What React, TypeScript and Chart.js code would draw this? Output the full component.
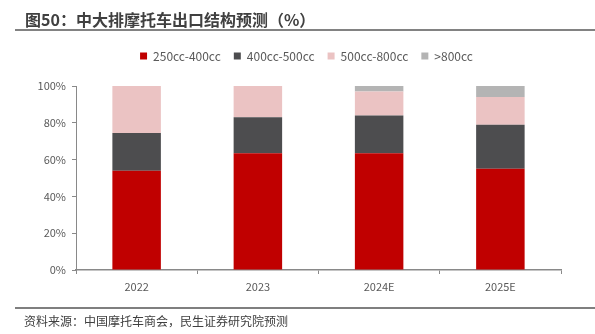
import React, { useEffect, useRef } from "react";
import { Chart, registerables } from "chart.js";

Chart.register(...registerables);

const categories = ["2022", "2023", "2024E", "2025E"];
const seriesNames = ["250cc-400cc", "400cc-500cc", "500cc-800cc", ">800cc"];
const s250_400 = [54, 63.5, 63.5, 55];
const s400_500 = [20.5, 19.5, 20.5, 24];
const s500_800 = [25.5, 17, 13, 15];
const s800 = [0, 0, 3, 6];
const yTicks = [0, 20, 40, 60, 80, 100];
const titleText = "图50：中大排摩托车出口结构预测（%）";
const sourceText = "资料来源：中国摩托车商会，民生证券研究院预测";

const colors = ["#C00000", "#4D4D4F", "#EBC3C3", "#B4B4B4"];
const FONT = "'Noto Sans CJK SC', 'Noto Sans', sans-serif";

export default function App() {
  const ref = useRef<HTMLCanvasElement | null>(null);
  useEffect(() => {
    document.body.style.margin = "0";
    const ctx = ref.current!.getContext("2d")!;
    const frame = {
      id: "frame",
      beforeInit(chart: any) {
        const orig = chart.legend.fit;
        chart.legend.fit = function () {
          orig.bind(this)();
          this.height += 14;
        };
      },
      afterLayout(chart: any) {
        chart.legend.left += 26;
        chart.legend.right += 26;
      },
      afterDraw(chart: any) {
        const c = chart.ctx;
        c.save();
        c.fillStyle = "#404040";
        c.font = `bold 16px ${FONT}`;
        c.textBaseline = "middle";
        c.textAlign = "left";
        c.fillText(titleText, 25, 20);
        c.strokeStyle = "#595959";
        c.lineWidth = 1.5;
        c.beginPath();
        c.moveTo(15, 30);
        c.lineTo(595, 30);
        c.stroke();
        c.strokeStyle = "#7F7F7F";
        c.lineWidth = 2;
        c.beginPath();
        c.moveTo(15, 308);
        c.lineTo(595, 308);
        c.stroke();
        c.fillStyle = "#404040";
        c.font = `12px ${FONT}`;
        c.fillText(sourceText, 24, 321);
        c.restore();
      },
    };
    const data = [s250_400, s400_500, s500_800, s800];
    const chart = new Chart(ctx, {
      type: "bar",
      data: {
        labels: categories,
        datasets: seriesNames.map((n, i) => ({
          label: n,
          data: data[i],
          backgroundColor: colors[i],
          borderWidth: 0,
          barPercentage: 0.4,
          categoryPercentage: 1,
        })),
      },
      options: {
        animation: false,
        responsive: false,
        maintainAspectRatio: false,
        layout: { padding: { top: 37, left: 0, right: 34, bottom: 34 } },
        plugins: {
          legend: {
            position: "top",
            labels: {
              boxWidth: 7,
              boxHeight: 7,
              padding: 13,
              color: "#595959",
              font: { family: FONT, size: 12 },
            },
          },
          tooltip: { enabled: false },
        },
        scales: {
          x: {
            stacked: true,
            offset: true,
            grid: {
              offset: true,
              drawOnChartArea: false,
              drawTicks: true,
              tickLength: 4,
              color: "#898989",
            },
            border: { display: true, color: "#898989", width: 1.5 },
            ticks: { color: "#595959", font: { family: FONT, size: 11 }, padding: 6 },
            afterFit(scale: any) {
              scale.height = 30;
            },
          },
          y: {
            stacked: true,
            min: 0,
            max: 100,
            afterBuildTicks(scale: any) {
              scale.ticks = yTicks.map((v) => ({ value: v }));
            },
            grid: {
              drawOnChartArea: false,
              drawTicks: true,
              tickLength: 4,
              color: "#898989",
            },
            border: { display: true, color: "#898989", width: 1 },
            ticks: {
              color: "#595959",
              font: { family: FONT, size: 11 },
              padding: 6,
              callback: (v: any) => v + "%",
            },
            afterFit(scale: any) {
              scale.width = 76;
            },
          },
        },
      },
      plugins: [frame],
    });
    return () => chart.destroy();
  }, []);
  return (
    <div style={{ position: "absolute", left: 0, top: 0, width: 595, height: 334, background: "#fff" }}>
      <canvas ref={ref} width={595} height={334} style={{ width: 595, height: 334 }} />
    </div>
  );
}
